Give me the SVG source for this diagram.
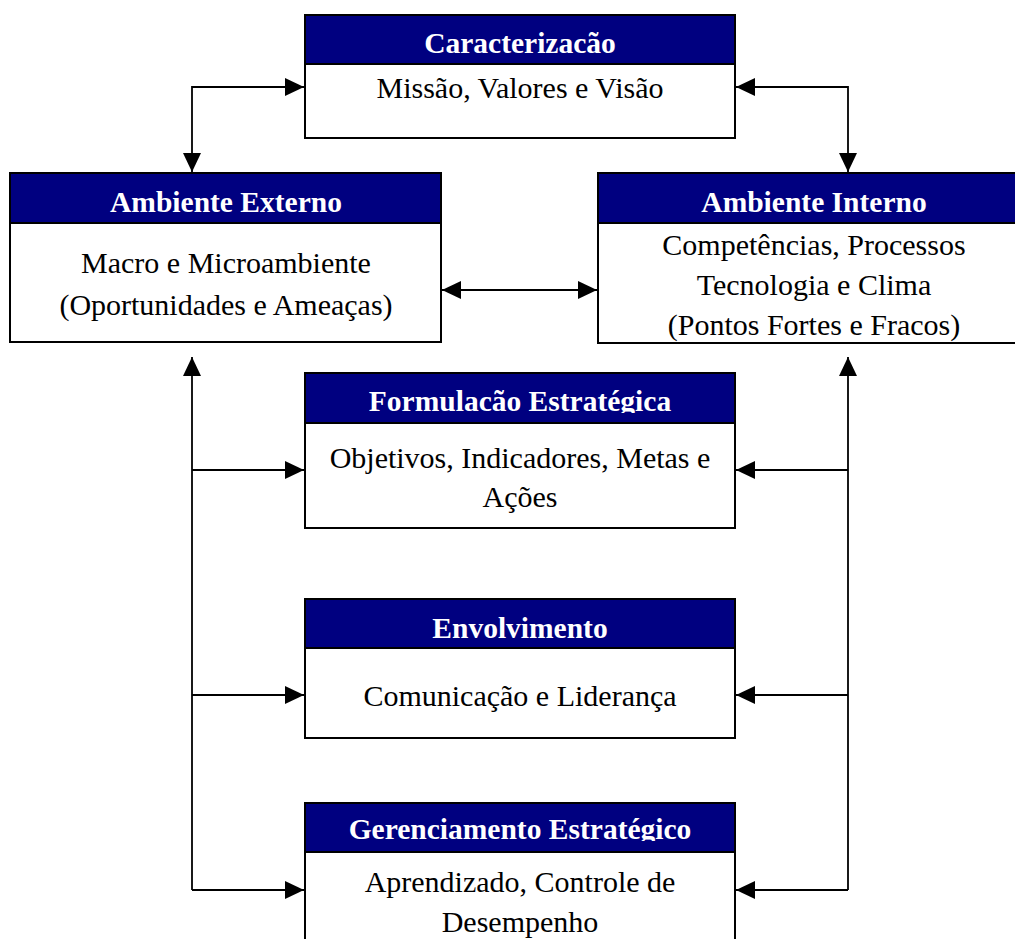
<svg xmlns="http://www.w3.org/2000/svg" width="1015" height="939" viewBox="0 0 1015 939">
  <style>
    .hd { fill: #000080; stroke: #000; stroke-width: 2; }
    .bd { fill: #fff; stroke: #000; stroke-width: 2; }
    .ht { font-family: "Liberation Serif", "Times New Roman", serif; font-weight: bold; font-size: 29.5px; fill: #fff; text-anchor: middle; }
    .bt { font-family: "Liberation Serif", "Times New Roman", serif; font-size: 30px; fill: #000; text-anchor: middle; }
    .ln { fill: none; stroke: #000; stroke-width: 1.8; }
  </style>
  <defs>
    <marker id="ah" viewBox="0 0 19 18" refX="19" refY="9" markerWidth="19" markerHeight="18" markerUnits="userSpaceOnUse" orient="auto-start-reverse">
      <path d="M0,0 L19,9 L0,18 Z" fill="#000"/>
    </marker>
    <!-- header captions are cut off just below their baseline -->
    <clipPath id="clip-form"><rect x="305" y="373" width="430" height="40"/></clipPath>
    <clipPath id="clip-ger"><rect x="305" y="803" width="430" height="38"/></clipPath>
  </defs>
  <rect width="1015" height="939" fill="#fff"/>

  <g id="connectors">
    <!-- Caracterizacao <-> Ambiente Externo -->
    <path class="ln" d="M304,87 H192 V172" marker-start="url(#ah)" marker-end="url(#ah)"/>
    <!-- Caracterizacao <-> Ambiente Interno -->
    <path class="ln" d="M736,87 H848 V172" marker-start="url(#ah)" marker-end="url(#ah)"/>
    <!-- Externo <-> Interno -->
    <path class="ln" d="M442,290 H597" marker-start="url(#ah)" marker-end="url(#ah)"/>
    <!-- left feedback spine -->
    <path class="ln" d="M192,357 V890" marker-start="url(#ah)"/>
    <path class="ln" d="M192,470 H304" marker-end="url(#ah)"/>
    <path class="ln" d="M192,695 H304" marker-end="url(#ah)"/>
    <path class="ln" d="M192,890 H304" marker-end="url(#ah)"/>
    <!-- right feedback spine -->
    <path class="ln" d="M848,357 V890" marker-start="url(#ah)"/>
    <path class="ln" d="M848,470 H736" marker-end="url(#ah)"/>
    <path class="ln" d="M848,695 H736" marker-end="url(#ah)"/>
    <path class="ln" d="M848,890 H736" marker-end="url(#ah)"/>
  </g>

  <g id="caracterizacao">
    <rect class="hd" x="305" y="15" width="430" height="49"/>
    <text class="ht" x="520" y="53">Caracterizacão</text>
    <rect class="bd" x="305" y="64" width="430" height="74"/>
    <text class="bt" x="520" y="98">Missão, Valores e Visão</text>
  </g>

  <g id="ambiente-externo">
    <rect class="hd" x="10" y="173" width="431" height="50"/>
    <text class="ht" x="226" y="212">Ambiente Externo</text>
    <rect class="bd" x="10" y="223" width="431" height="119"/>
    <text class="bt" x="226" y="273">Macro e Microambiente</text>
    <text class="bt" x="226" y="315">(Oportunidades e Ameaças)</text>
  </g>

  <g id="ambiente-interno">
    <rect class="hd" x="598" y="173" width="420" height="50"/>
    <text class="ht" x="814" y="212">Ambiente Interno</text>
    <rect class="bd" x="598" y="223" width="420" height="120"/>
    <text class="bt" x="814" y="255">Competências, Processos</text>
    <text class="bt" x="814" y="295">Tecnologia e Clima</text>
    <text class="bt" x="814" y="335">(Pontos Fortes e Fracos)</text>
  </g>

  <g id="formulacao">
    <rect class="hd" x="305" y="373" width="430" height="50"/>
    <text class="ht" x="520" y="411" clip-path="url(#clip-form)">Formulacão Estratégica</text>
    <rect class="bd" x="305" y="423" width="430" height="105"/>
    <text class="bt" x="520" y="468">Objetivos, Indicadores, Metas e</text>
    <text class="bt" x="520" y="507">Ações</text>
  </g>

  <g id="envolvimento">
    <rect class="hd" x="305" y="599" width="430" height="49"/>
    <text class="ht" x="520" y="638">Envolvimento</text>
    <rect class="bd" x="305" y="648" width="430" height="90"/>
    <text class="bt" x="520" y="706">Comunicação e Liderança</text>
  </g>

  <g id="gerenciamento">
    <rect class="hd" x="305" y="803" width="430" height="49"/>
    <text class="ht" x="520" y="839" clip-path="url(#clip-ger)">Gerenciamento Estratégico</text>
    <rect class="bd" x="305" y="852" width="430" height="100"/>
    <text class="bt" x="520" y="892">Aprendizado, Controle de</text>
    <text class="bt" x="520" y="932">Desempenho</text>
  </g>
</svg>
